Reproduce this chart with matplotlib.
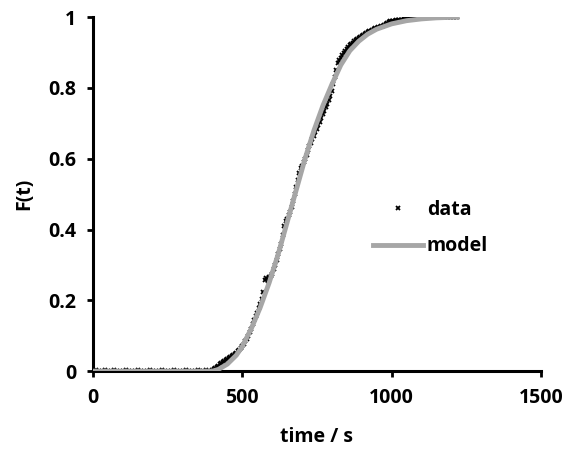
import matplotlib

matplotlib.use("Agg")
import matplotlib.pyplot as plt
from matplotlib.ticker import FuncFormatter

plt.rcParams["font.family"] = ["Open Sans", "DejaVu Sans"]
plt.rcParams["font.weight"] = "bold"

# measured data: baseline every 10 s, then every 5 s from 400 s
data_t = list(range(0, 400, 10)) + list(range(400, 1225, 5))
data_f = [
    # 0 - 390 s
    0.001, 0.002, 0.0, 0.001, 0.002, 0.001, 0.0, 0.002, 0.001, 0.0,
    0.001, 0.002, 0.001, 0.0, 0.001, 0.002, 0.001, 0.0, 0.001, 0.002,
    0.001, 0.0, 0.001, 0.002, 0.001, 0.0, 0.001, 0.002, 0.001, 0.0,
    0.001, 0.002, 0.001, 0.0, 0.001, 0.002, 0.001, 0.0, 0.002, 0.001,
    # 400 - 1220 s
    0.003, 0.006, 0.009, 0.012, 0.015, 0.019, 0.022, 0.026, 0.028, 0.031,
    0.034, 0.036, 0.04, 0.043, 0.046, 0.049, 0.052, 0.056, 0.06, 0.065,
    0.07, 0.077, 0.085, 0.092, 0.1, 0.11, 0.12, 0.132, 0.145, 0.155,
    0.165, 0.178, 0.19, 0.205, 0.225, 0.258, 0.262, 0.255, 0.265, 0.268,
    0.275, 0.288, 0.3, 0.315, 0.33, 0.345, 0.36, 0.385, 0.41, 0.425,
    0.43, 0.44, 0.45, 0.465, 0.48, 0.5, 0.52, 0.54, 0.56, 0.575,
    0.58, 0.59, 0.6, 0.612, 0.625, 0.635, 0.645, 0.655, 0.665, 0.675,
    0.685, 0.695, 0.705, 0.715, 0.725, 0.735, 0.745, 0.755, 0.765, 0.778,
    0.79, 0.81, 0.83, 0.85, 0.87, 0.878, 0.885, 0.892, 0.9, 0.905,
    0.91, 0.915, 0.92, 0.924, 0.928, 0.932, 0.936, 0.939, 0.942, 0.945,
    0.947, 0.95, 0.952, 0.955, 0.957, 0.96, 0.962, 0.964, 0.966, 0.968,
    0.97, 0.972, 0.973, 0.975, 0.976, 0.978, 0.98, 0.983, 0.985, 0.988,
    0.99, 0.989, 0.99, 0.991, 0.992, 0.992, 0.993, 0.993, 0.994, 0.995,
    0.995, 0.996, 0.996, 0.995, 0.997, 0.996, 0.998, 0.997, 0.998, 0.999,
    0.998, 0.999, 0.997, 0.999, 1.0, 0.999, 1.0, 1.001, 1.0, 1.002,
    0.999, 1.001, 1.0, 1.002, 1.001, 1.0, 1.001, 1.0, 1.0, 0.999,
    1.0, 1.001, 1.0, 1.0, 1.0,
]

# fitted model curve
model_t = [0, 100, 200, 300, 400, 420, 450, 480, 500, 530, 560, 590, 620,
           650, 680, 710, 740, 770, 800, 830, 860, 890, 920, 950, 1000,
           1050, 1100, 1150, 1220]
model_f = [0.0, 0.0, 0.0, 0.0, 0.0, 0.005, 0.02, 0.045, 0.07, 0.12, 0.18,
           0.25, 0.33, 0.42, 0.51, 0.6, 0.68, 0.75, 0.81, 0.865, 0.905,
           0.932, 0.952, 0.966, 0.981, 0.99, 0.995, 0.998, 1.0]

fig = plt.figure(figsize=(5.67, 4.51), dpi=100)
ax = fig.add_axes([0.164, 0.177, 0.79, 0.785])

ax.plot(data_t, data_f, linestyle="none", marker="x", markersize=3.5,
        markeredgewidth=1.3, color="black", label="data", zorder=2)
ax.plot(model_t, model_f, color="#a6a6a6", linewidth=3.5, label="model",
        zorder=3)

ax.set_xlim(0, 1500)
ax.set_ylim(0, 1)
ax.set_xticks([0, 500, 1000, 1500])
ax.set_yticks([0, 0.2, 0.4, 0.6, 0.8, 1.0])
ax.yaxis.set_major_formatter(FuncFormatter(lambda v, p: f"{v:g}"))

for side in ("top", "right"):
    ax.spines[side].set_visible(False)
for side in ("left", "bottom"):
    ax.spines[side].set_linewidth(2.2)
    ax.spines[side].set_color("black")
ax.tick_params(direction="out", length=4, width=2, labelsize=14, pad=8)

ax.set_xlabel("time / s", fontsize=14, fontweight="bold", labelpad=14)
ax.set_ylabel("F(t)", fontsize=14, fontweight="bold", labelpad=10)

ax.legend(loc="center left", bbox_to_anchor=(0.585, 0.404), frameon=False,
          fontsize=14, handlelength=2.6, handletextpad=0.2, labelspacing=0.85)

fig.savefig("out.png", dpi=100)
